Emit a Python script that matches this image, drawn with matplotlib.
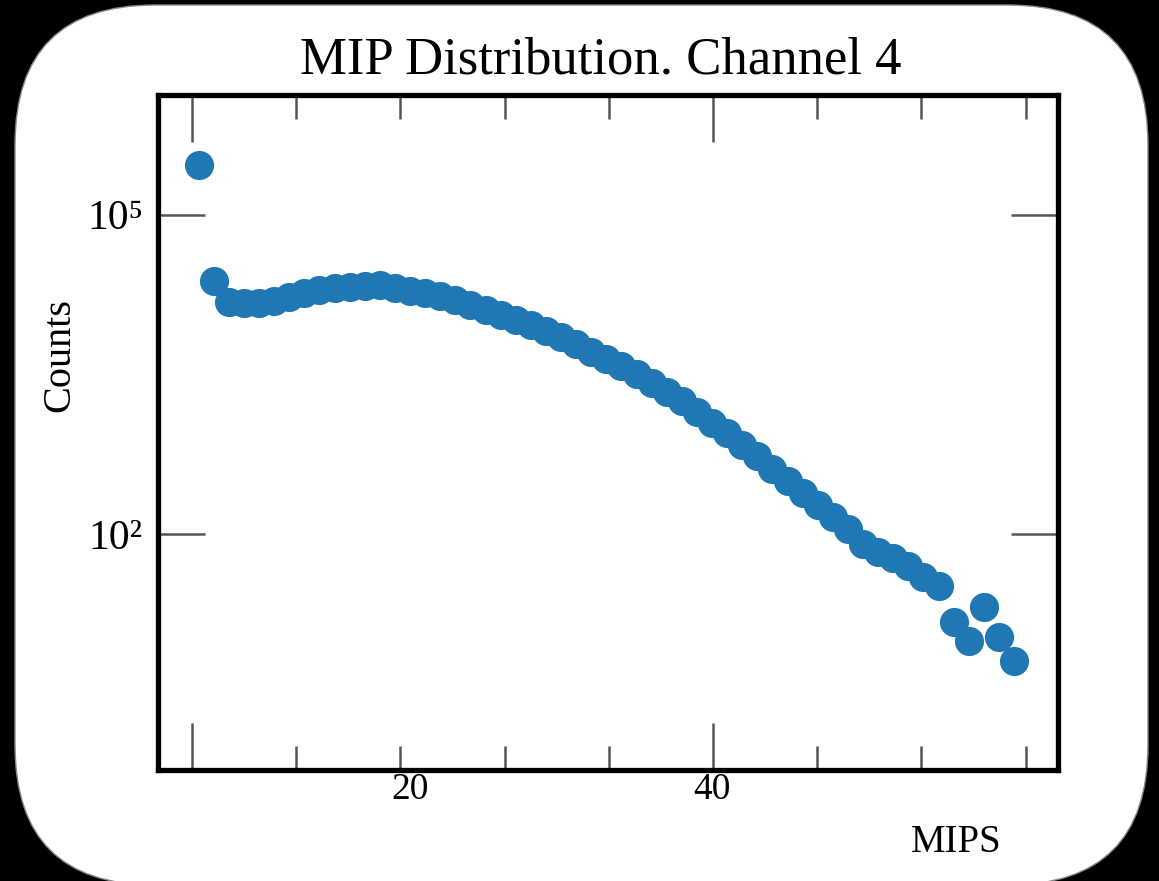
import matplotlib

matplotlib.use("Agg")
import matplotlib.pyplot as plt
from matplotlib.patches import FancyBboxPatch
from matplotlib.ticker import NullLocator

plt.rcParams["font.family"] = ["Liberation Serif", "DejaVu Serif"]

# data
MIPS = list(range(6, 61))
COUNTS = [
    294000, 24000, 15300, 14960, 14960, 15630, 17040, 18560, 19820, 20700,
    21150, 21620, 22100, 20700, 19400, 18560, 17420, 15970, 14340, 12880,
    11560, 10380, 9310, 8180, 7190, 6180, 5200, 4470, 3840, 3230,
    2660, 2190, 1770, 1420, 1120, 887, 684, 540, 408, 315,
    243, 187, 145, 112, 81, 68, 60, 50, 40, 33,
    15, 10, 21, 11, 6.5,
]

X_MAJOR_TICKS = [5.56, 40.07]
X_MINOR_TICKS = [12.46, 19.36, 26.26, 33.17, 46.97, 53.87, 60.77]
X_TICK_LABELS = [20, 40]
Y_TICKS = [1e5, 1e2]
Y_TICK_LABELS = ["10\u2075", "10\u00b2"]

TITLE = "MIP Distribution. Channel 4"
X_LABEL = "MIPS"
Y_LABEL = "Counts"

W, H = 1159, 881
fig = plt.figure(figsize=(W / 100, H / 100), dpi=100, facecolor="black")

# white rounded card on a black background, in pixel units
bg = fig.add_axes([0, 0, 1, 1], zorder=0)
bg.set_xlim(0, W)
bg.set_ylim(H, 0)
bg.axis("off")
bg.add_patch(
    FancyBboxPatch(
        (15, 5), 1133, 880,
        boxstyle="round,pad=0,rounding_size=140",
        facecolor="white", edgecolor="#888888", linewidth=1.0,
    )
)

ax = fig.add_axes([158 / W, 1 - 770 / H, 900 / W, 675 / H], zorder=1)
ax.scatter(MIPS, COUNTS, s=440, color="#1f77b4", linewidths=0, zorder=3)

ax.set_yscale("log")
ax.set_xlim(3.31, 62.91)
ax.set_ylim(0.615, 1.33e6)

ax.set_xticks(X_MAJOR_TICKS, labels=[""] * len(X_MAJOR_TICKS))
ax.set_xticks(X_MINOR_TICKS, minor=True)
ax.set_yticks(Y_TICKS, labels=Y_TICK_LABELS)
ax.yaxis.set_minor_locator(NullLocator())

ax.tick_params(axis="both", which="both", direction="in", top=True, right=True,
               color="#555555", width=1.8)
ax.tick_params(axis="both", which="major", length=34)
ax.tick_params(axis="x", which="minor", length=17)
ax.tick_params(axis="y", which="major", labelsize=30, pad=10.8)

for side in ax.spines.values():
    side.set_linewidth(3.8)
    side.set_color("black")

for v in X_TICK_LABELS:
    ax.text(v, -0.004, str(v), transform=ax.get_xaxis_transform(),
            ha="center", va="top", fontsize=27)

fig.text(601 / W, 1 - 73 / H, TITLE, ha="center", va="baseline", fontsize=38)
fig.text(956 / W, 1 - 852 / H, X_LABEL, ha="center", va="baseline", fontsize=28)
fig.text(60 / W, 1 - 355 / H, Y_LABEL, ha="center", va="center", rotation=90,
         fontsize=29)

fig.savefig("out.png", dpi=100, facecolor="black")
